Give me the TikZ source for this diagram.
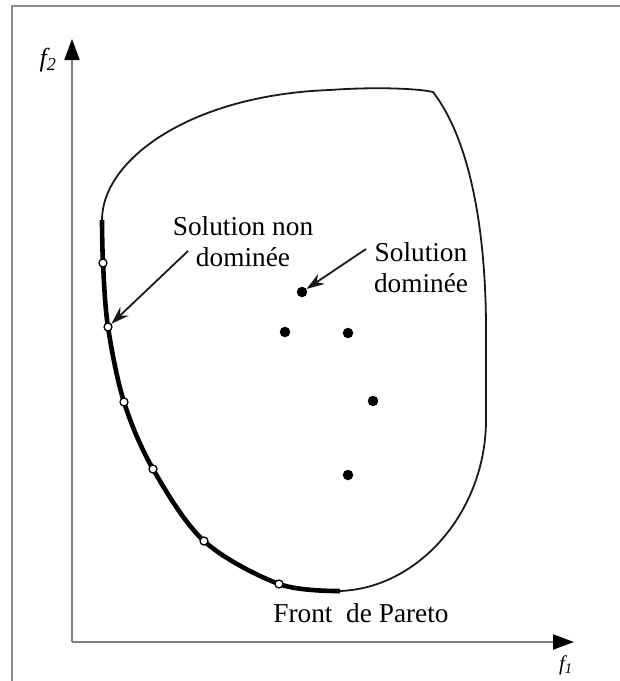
\documentclass[tikz,border=0pt]{standalone}
\usepackage{fontspec}
\setmainfont{Liberation Serif}
\usetikzlibrary{arrows.meta}
\begin{document}
\begin{tikzpicture}[x=1pt,y=-1pt,
  frame/.style={draw=black!45, line width=2pt},
  axis/.style={draw=black!50, line width=2pt, -{Triangle[length=21pt,width=15pt,color=black]}},
  border/.style={line width=1.8pt, draw=black!90},
  front/.style={line width=4.6pt, draw=black},
  opencirc/.style={circle, draw=black, fill=white, line width=1.3pt, minimum size=8pt, inner sep=0pt},
  dot/.style={circle, fill=black, minimum size=10.5pt, inner sep=0pt},
  lab/.style={font=\fontsize{27.3}{31}\selectfont, align=center, text=black, inner sep=0pt},
  pointer/.style={line width=1.8pt, draw=black!90, -{Stealth[length=18pt,width=12pt]}}]
\useasboundingbox (0,0) rectangle (620,681);
% frame
\draw[frame] (12,681) -- (12,6) -- (620,6);
% axes
\coordinate (O) at (72,642);
\coordinate (ytip) at (72,39);
\coordinate (xtip) at (574,642);
\draw[axis] (O) -- (ytip);
\draw[axis] (O) -- (xtip);
\node[font=\fontsize{26}{26}\selectfont\itshape, inner sep=0pt] (f2) at (48,60) {f\textsubscript{2}};
\node[font=\fontsize{21}{21}\selectfont\itshape, inner sep=0pt] (f1) at (566,665) {f\textsubscript{1}};
% feasible region boundary
\draw[border] (102,220) .. controls (102,160) and (190,95) .. (330,90)
  .. controls (370,87) and (415,88) .. (433,92)
  .. controls (470,140) and (486,230) .. (486,330) -- (486,420)
  .. controls (486,510) and (420,588) .. (340,591);
% Pareto front
\draw[front] plot[smooth, tension=0.55] coordinates {(102,220) (103,263) (108,327) (124,402) (153,469) (204,541) (279,584) (340,591)};
% non-dominated solutions
\node[opencirc] (np1) at (103,263) {};
\node[opencirc] (np2) at (108,327) {};
\node[opencirc] (np3) at (124,402) {};
\node[opencirc] (np4) at (153,469) {};
\node[opencirc] (np5) at (204,541) {};
\node[opencirc] (np6) at (279,584) {};
% dominated solutions
\node[dot] (d1) at (302,292) {};
\node[dot] (d2) at (285,332) {};
\node[dot] (d3) at (348,333) {};
\node[dot] (d4) at (373,401) {};
\node[dot] (d5) at (348,475) {};
% labels
\node[lab] (lnd) at (243,242) {Solution non\\dominée};
\node[lab] (ld) at (421,268) {Solution\\dominée};
\node[lab, anchor=base] (lpf) at (361,622) {Front~~de Pareto};
% pointers
\coordinate (s1) at (188,251);
\coordinate (s2) at (366,249);
\draw[pointer] (s1) -- (np2);
\draw[pointer] (s2) -- (d1);
\end{tikzpicture}
\end{document}
